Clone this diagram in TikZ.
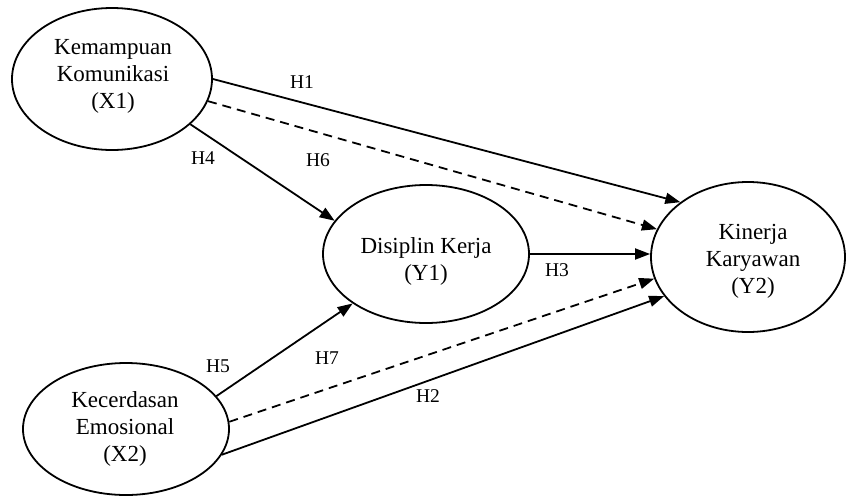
\documentclass[tikz,border=0pt]{standalone}
\usepackage{fontspec}
\setmainfont{Liberation Serif}
\usetikzlibrary{shapes.geometric,arrows.meta}
\begin{document}
\begin{tikzpicture}[x=1pt,y=-1pt,
  var/.style={draw, ellipse, line width=1.8pt, inner sep=0pt},
  vtext/.style={align=center, inner sep=0pt, font=\fontsize{23}{27}\selectfont},
  conn/.style={line width=1.8pt, -{Triangle[length=15pt,width=11pt]}},
  dconn/.style={conn, dash pattern=on 9pt off 6pt},
  hlab/.style={font=\fontsize{19.5}{22}\selectfont, inner sep=0pt}]
\useasboundingbox (0,0) rectangle (846,496);
\node[var, minimum width=200pt, minimum height=142pt] (X1) at (112,79) {};
\node[var, minimum width=206pt, minimum height=138pt] (Y1) at (426,254) {};
\node[var, minimum width=194pt, minimum height=150pt] (Y2) at (748,257) {};
\node[var, minimum width=206pt, minimum height=132pt] (X2) at (126,429) {};
\node[vtext] (X1t) at (113,76) {Kemampuan\\Komunikasi\\(X1)};
\node[vtext] (Y1t) at (426,261) {Disiplin Kerja\\(Y1)};
\node[vtext] (Y2t) at (753,261) {Kinerja\\Karyawan\\(Y2)};
\node[vtext] (X2t) at (125,429) {Kecerdasan\\Emosional\\(X2)};
\draw[conn] (X1.0) -- (Y2.141);
\draw[dconn] (X1.-13) -- (Y2.163);
\draw[conn] (X1.-30) -- (Y1.160);
\draw[conn] (Y1.east) -- (Y1.east -| Y2.west);
\draw[conn] (X2.20) -- (Y1.214);
\draw[dconn] (X2.4) -- (Y2.193);
\draw[conn] (X2.-15) -- (Y2.205);
\node[hlab] (h1) at (302,82) {H1};
\node[hlab] (h6) at (318,160) {H6};
\node[hlab] (h4) at (203,158) {H4};
\node[hlab] (h3) at (557,270) {H3};
\node[hlab] (h7) at (327,358) {H7};
\node[hlab] (h2) at (428,396) {H2};
\node[hlab] (h5) at (218,366) {H5};
\end{tikzpicture}
\end{document}
